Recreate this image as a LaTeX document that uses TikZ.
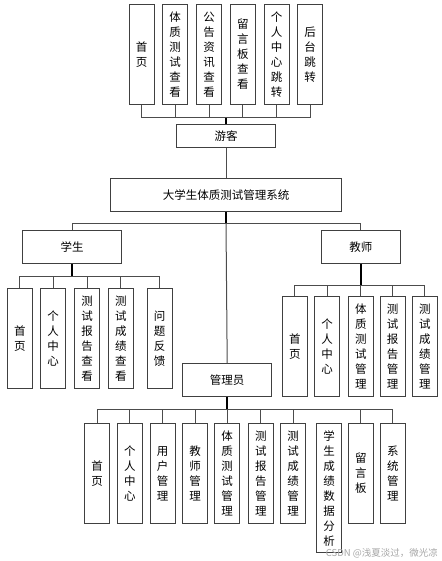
\documentclass[tikz,border=0pt]{standalone}
\usepackage{fontspec}
\setmainfont{Noto Sans CJK SC}
\begin{document}
\begin{tikzpicture}[x=1pt,y=-1pt,
  box/.style={draw=black!75,line width=1pt,fill=white,inner sep=0pt,align=center,
    font=\fontsize{11.5}{15}\selectfont},
  vbox/.style={box,minimum width=25pt,minimum height=99.6pt},
  hbox/.style={box,minimum height=33.4pt},
  conn/.style={draw=black!70,line width=1pt},
  trunk/.style={draw=black,line width=1.6pt}]
\useasboundingbox (0,0) rectangle (441,561);
% top row
\node[vbox] (t1) at (141.5,54.5) {首\\页};
\node[vbox] (t2) at (175.2,54.5) {体\\质\\测\\试\\查\\看};
\node[vbox] (t3) at (209.2,54.5) {公\\告\\资\\讯\\查\\看};
\node[vbox] (t4) at (242.8,54.5) {留\\言\\板\\查\\看};
\node[vbox] (t5) at (276.7,54.5) {个\\人\\中\\心\\跳\\转};
\node[vbox] (t6) at (310.2,54.5) {后\\台\\跳\\转};
\node[box,minimum width=99.7pt,minimum height=22.7pt] (yk) at (226,136) {游客};
\node[hbox,minimum width=231.4pt] (sys) at (226,195) {大学生体质测试管理系统};
\node[hbox,minimum width=99.4pt] (stu) at (72,247) {学生};
\node[hbox,minimum width=79.7pt] (tea) at (360.9,247) {教师};
\node[box,minimum width=89pt,minimum height=32.7pt] (adm) at (227.2,379.7) {管理员};
% student children
\node[vbox] (s1) at (19.8,338.3) {首\\页};
\node[vbox] (s2) at (53.2,338.3) {个\\人\\中\\心};
\node[vbox] (s3) at (87,338.3) {测\\试\\报\\告\\查\\看};
\node[vbox] (s4) at (120.8,338.3) {测\\试\\成\\绩\\查\\看};
\node[vbox] (s5) at (159.5,338.3) {问\\题\\反\\馈};
% teacher children
\node[vbox] (e1) at (294.8,346.5) {首\\页};
\node[vbox] (e2) at (327,346.5) {个\\人\\中\\心};
\node[vbox] (e3) at (360.8,346.5) {体\\质\\测\\试\\管\\理};
\node[vbox] (e4) at (392.5,346.5) {测\\试\\报\\告\\管\\理};
\node[vbox] (e5) at (424.8,346.5) {测\\试\\成\\绩\\管\\理};
% admin children
\node[vbox] (a1) at (97,473.5) {首\\页};
\node[vbox] (a2) at (129.8,473.5) {个\\人\\中\\心};
\node[vbox] (a3) at (162.5,473.5) {用\\户\\管\\理};
\node[vbox] (a4) at (195.2,473.5) {教\\师\\管\\理};
\node[vbox] (a5) at (227.2,473.5) {体\\质\\测\\试\\管\\理};
\node[vbox] (a6) at (260.8,473.5) {测\\试\\报\\告\\管\\理};
\node[vbox] (a7) at (293.2,473.5) {测\\试\\成\\绩\\管\\理};
\node[vbox,minimum height=129pt] (a8) at (329.2,488.2) {学\\生\\成\\绩\\数\\据\\分\\析};
\node[vbox] (a9) at (360.8,473.5) {留\\言\\板};
\node[vbox] (a10) at (392.8,473.5) {系\\统\\管\\理};
% junctions
\coordinate (jt) at (226,118);
\coordinate (js) at (226,223.3);
\coordinate (jst) at (72,276.7);
\coordinate (jte) at (360.9,285);
\coordinate (jad) at (227.2,409);
% connectors top
\foreach \n in {t1,t2,t3,t4,t5,t6} \draw[conn] (\n.south) |- (jt);
\draw[trunk] (jt) -- (yk.north);
\draw[conn] (yk.south) -- (sys.north);
\draw[conn] (js) -| (stu.north);
\draw[conn] (js) -| (tea.north);
\draw[trunk] (sys.south) -- (js);
\draw[conn] (js) -- (adm.north);
\draw[trunk] (stu.south) -- (jst);
\foreach \n in {s1,s2,s3,s4,s5} \draw[conn] (\n.north) |- (jst);
\draw[trunk] (tea.south) -- (jte);
\foreach \n in {e1,e2,e3,e4,e5} \draw[conn] (\n.north) |- (jte);
\draw[trunk] (adm.south) -- (jad);
\foreach \n in {a1,a2,a3,a4,a5,a6,a7,a9,a10} \draw[conn] (\n.north) |- (jad);
% watermark
\node[anchor=east,text=black!35,font=\fontsize{9.5}{10}\selectfont,inner sep=0pt] (wm) at (438,553) {CSDN @浅夏淡过，微光凉};
\end{tikzpicture}
\end{document}
